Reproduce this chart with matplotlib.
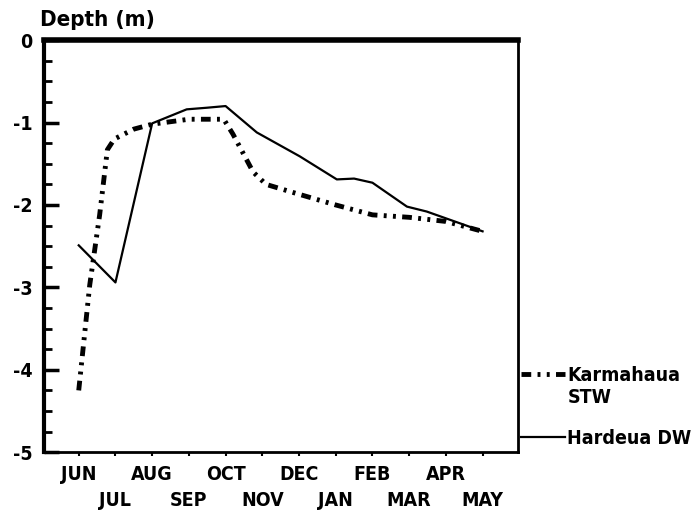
import numpy as np
import matplotlib
matplotlib.use("Agg")
import matplotlib.pyplot as plt
from matplotlib.lines import Line2D
from matplotlib.ticker import MultipleLocator

plt.rcParams['font.family'] = ['DejaVu Sans']
plt.rcParams['font.stretch'] = 'condensed'
plt.rcParams['axes.unicode_minus'] = False

months = ["JUN", "JUL", "AUG", "SEP", "OCT", "NOV",
          "DEC", "JAN", "FEB", "MAR", "APR", "MAY"]

# positions in months from June, depths
karma_x = [0, 0.3, 0.57, 0.78, 0.97, 1.5, 2, 3, 3.95, 4.2, 4.75, 5.1, 6, 7, 8, 9, 10, 11]
karma_y = [-4.25, -2.97, -2.12, -1.33, -1.2, -1.08, -1.02, -0.96, -0.96,
           -1.14, -1.6, -1.75, -1.87, -2.0, -2.12, -2.15, -2.2, -2.32]

harde_x = [0, 1, 2, 2.94, 3.5, 4, 4.85, 6.02, 7.03, 7.5, 8.0, 8.94, 9.48, 11]
harde_y = [-2.49, -2.94, -1.01, -0.84, -0.82, -0.80, -1.12, -1.41,
           -1.69, -1.68, -1.73, -2.02, -2.08, -2.32]

fig = plt.figure(figsize=(6.96, 5.21), dpi=100)
ax = fig.add_axes([0.063, 0.132, 0.681, 0.791])

k_line, = ax.plot(karma_x, karma_y, color='black', lw=3.5,
                  linestyle=(0, (2.0, 1.3, 0.6, 1.3, 0.6, 1.3)))
h_line, = ax.plot(harde_x, harde_y, color='black', lw=1.6)

ax.set_xlim(-0.95, 11.96)
ax.set_ylim(-5, 0)

# alternate month labels on two rows
idx = np.arange(len(months))
ax.set_xticks(idx[::2])
ax.set_xticklabels(months[::2], fontsize=14, fontweight='bold')
ax.set_xticks(idx[1::2], minor=True)
ax.set_xticklabels(months[1::2], minor=True, fontsize=14, fontweight='bold')
ax.tick_params(axis='x', which='major', direction='out', length=3, width=1.5, pad=6)
ax.tick_params(axis='x', which='minor', direction='out', length=3, width=1.5, pad=25)

ax.set_yticks(range(-5, 1))
ax.set_yticklabels([str(v) for v in range(-5, 1)], fontsize=14, fontweight='bold')
ax.yaxis.set_minor_locator(MultipleLocator(0.25))
ax.tick_params(axis='y', which='major', direction='in', length=11, width=2.5, pad=8)
ax.tick_params(axis='y', which='minor', direction='in', length=6, width=2)

ax.spines['top'].set_linewidth(4)
ax.spines['left'].set_linewidth(3)
ax.spines['bottom'].set_linewidth(2)
ax.spines['right'].set_linewidth(2)

fig.text(0.057, 0.962, "Depth (m)", fontsize=16, fontweight='bold', va='center')

leg_prop = {'weight': 'bold', 'size': 14, 'stretch': 'condensed'}
blank = Line2D([], [], color='none')
fig.legend([k_line, blank], ['Karmahaua', 'STW'], loc='center left',
           bbox_to_anchor=(0.748, 0.258), frameon=False, prop=leg_prop,
           handlelength=2.3, handletextpad=0.1, labelspacing=0.15,
           borderaxespad=0, borderpad=0)
fig.legend([h_line], ['Hardeua DW'], loc='center left',
           bbox_to_anchor=(0.748, 0.159), frameon=False, prop=leg_prop,
           handlelength=2.3, handletextpad=0.1, borderaxespad=0, borderpad=0)

fig.savefig("out.png", dpi=100)
